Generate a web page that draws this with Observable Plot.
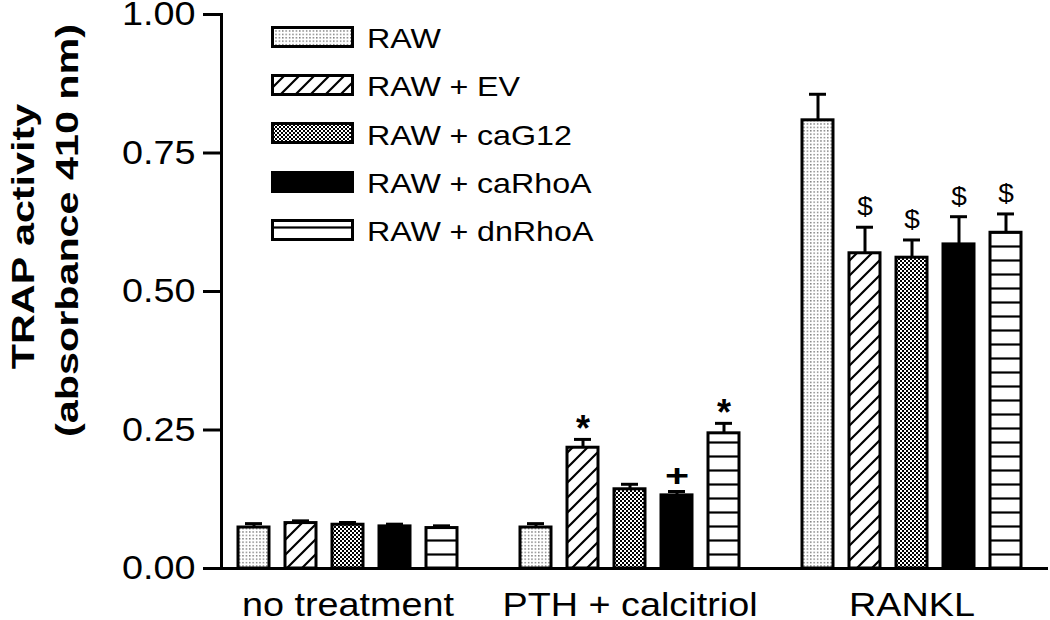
<!DOCTYPE html>
<html>
<head>
<meta charset="utf-8">
<script src="https://cdn.jsdelivr.net/npm/d3@7"></script>
<script src="https://cdn.jsdelivr.net/npm/@observablehq/plot@0.6"></script>
<style>
  body { margin: 0; background: #fff; }
  #wrap { position: relative; width: 1050px; height: 620px; font-family: "Liberation Sans", Arial, sans-serif; }
  #legend { position: absolute; left: 271px; top: 13px; }
  .row { display: flex; align-items: center; height: 48.3px; }
  .row svg { display: block; }
  .row .lab { display: inline-block; margin-left: 12px; font-size: 28px; line-height: 1; color: #000;
              transform: scaleX(1.15); transform-origin: left center; position: relative; top: 2px; white-space: nowrap; }
  .row .plus { margin: 0 7.5px; }
</style>
</head>
<body>
<svg width="0" height="0" style="position:absolute">
  <defs>
    <pattern id="pDots" patternUnits="userSpaceOnUse" width="3.4" height="3.4">
      <rect width="3.4" height="3.4" fill="#fff"/>
      <rect x="1" y="1" width="1.2" height="1.2" fill="#444"/>
    </pattern>
    <pattern id="pDiag" patternUnits="userSpaceOnUse" width="15" height="15">
      <rect width="15" height="15" fill="#fff"/>
      <path d="M-2,17 L17,-2 M-2,2 L2,-2 M13,17 L17,13" stroke="#000" stroke-width="2.2"/>
    </pattern>
    <pattern id="pCheck" patternUnits="userSpaceOnUse" width="4" height="4">
      <rect width="4" height="4" fill="#fff"/>
      <rect width="2" height="2" fill="#000"/>
      <rect x="2" y="2" width="2" height="2" fill="#000"/>
    </pattern>
    <pattern id="pHLines" patternUnits="userSpaceOnUse" width="10" height="14">
      <rect width="10" height="14" fill="#fff"/>
      <line x1="0" x2="10" y1="8.5" y2="8.5" stroke="#000" stroke-width="2.2"/>
    </pattern>
  </defs>
</svg>
<div id="wrap"><div id="legend"></div></div>
<script>
// ---- data ----
const groups = ["no treatment", "PTH + calcitriol", "RANKL"];
const series = ["RAW", "RAW+EV", "RAW+caG12", "RAW+caRhoA", "RAW+dnRhoA"];
const meanNoTreatment = [0.074, 0.082, 0.079, 0.076, 0.073];
const errNoTreatment  = [0.007, 0.004, 0.004, 0.004, 0.004];
const meanPTH   = [0.074, 0.218, 0.143, 0.132, 0.244];
const errPTH    = [0.007, 0.015, 0.009, 0.007, 0.018];
const meanRANKL = [0.809, 0.569, 0.561, 0.585, 0.606];
const errRANKL  = [0.047, 0.047, 0.032, 0.050, 0.034];
const sigNoTreatment = ["", "", "", "", ""];
const sigPTH   = ["", "*", "", "+", "*"];
const sigRANKL = ["", "$", "$", "$", "$"];
const yTicks = [0, 0.25, 0.5, 0.75, 1];
const yTitleLine1 = "TRAP activity";
const yTitleLine2 = "(absorbance 410 nm)";
const fills = ["url(#pDots)", "url(#pDiag)", "url(#pCheck)", "#000", "url(#pHLines)"];

// ---- build table ----
const means = [meanNoTreatment, meanPTH, meanRANKL];
const errs = [errNoTreatment, errPTH, errRANKL];
const sigs = [sigNoTreatment, sigPTH, sigRANKL];
const rows = [];
const xDomain = [];
groups.forEach((g, gi) => {
  series.forEach((s, si) => {
    const key = g + "|" + s;
    xDomain.push(key);
    rows.push({group: g, series: s, key, mean: means[gi][si], err: errs[gi][si], top: means[gi][si] + errs[gi][si], sig: sigs[gi][si]});
  });
  if (gi < groups.length - 1) xDomain.push("gap" + gi);
});
const groupLabels = groups.map(g => ({label: g, key: g + "|" + series[2]}));
const starSig = rows.filter(d => d.sig === "*");
const plusSig = rows.filter(d => d.sig === "+");
const dollarSig = rows.filter(d => d.sig === "$");

const chart = Plot.plot({
  width: 1050,
  height: 620,
  marginLeft: 221,
  marginRight: 2,
  marginTop: 14,
  marginBottom: 52,
  style: {fontFamily: "'Liberation Sans', Arial, sans-serif", background: "#fff", color: "#000", overflow: "visible"},
  x: {domain: xDomain, paddingInner: 0.34, paddingOuter: 0.385, align: 0.379, axis: null},
  y: {domain: [0, 1]},
  color: {domain: series, range: fills},
  marks: [
    Plot.ruleX(rows, {x: "key", y1: "mean", y2: "top", stroke: "#000", strokeWidth: 3}),
    Plot.tickY(rows, {x: "key", y: "top", stroke: "#000", strokeWidth: 3, insetLeft: 7, insetRight: 7}),
    Plot.barY(rows, {x: "key", y: "mean", fill: "series", stroke: "#000", strokeWidth: 3}),
    Plot.text(starSig, {x: "key", y: "top", text: "sig", fontSize: 36, fontWeight: "bold", lineAnchor: "bottom", dy: 2}),
    Plot.text(plusSig, {x: "key", y: "top", text: "sig", fontSize: 32, fontWeight: "bold", lineAnchor: "bottom", dy: -5}),
    Plot.text(dollarSig, {x: "key", y: "top", text: "sig", fontSize: 25, lineAnchor: "bottom", dy: -12}),
    Plot.axisY(yTicks, {tickFormat: d3.format(".2f"), tickSize: 18, tickPadding: 8, strokeWidth: 3, fontSize: 33, label: null}),
    Plot.frame({anchor: "left", strokeWidth: 3}),
    Plot.ruleY([0], {strokeWidth: 3}),
    Plot.text(groupLabels, {x: "key", text: "label", frameAnchor: "bottom", lineAnchor: "bottom", dy: 47, fontSize: 33}),
    Plot.text([yTitleLine1], {text: d => d, frameAnchor: "left", textAnchor: "middle", lineAnchor: "bottom", rotate: -90, dx: -188, dy: -55, fontSize: 32, fontWeight: "bold"}),
    Plot.text([yTitleLine2], {text: d => d, frameAnchor: "left", textAnchor: "middle", lineAnchor: "bottom", rotate: -90, dx: -144, dy: -61, fontSize: 32, fontWeight: "bold"})
  ]
});

document.getElementById("wrap").prepend(chart);

// horizontal stretch of the lettering, as in the reference
function stretch(sel, k) {
  sel.each(function() {
    const L = this.getComputedTextLength();
    this.setAttribute("textLength", (L * k).toFixed(1));
    this.setAttribute("lengthAdjust", "spacingAndGlyphs");
  });
}
const root = d3.select(chart);
stretch(root.selectAll("g[aria-label='y-axis tick label'] text"), 1.145);
root.selectAll("g[aria-label='text']").each(function() {
  const g = d3.select(this);
  const fs = g.attr("font-size");
  if (fs === "33") stretch(g.selectAll("text"), 1.145);
  if (fs === "32") stretch(g.selectAll("text"), 1.29);
  if (fs === "25") stretch(g.selectAll("text"), 1.12);
});

// legend
const legend = d3.select("#legend");
series.forEach((s, i) => {
  const row = legend.append("div").attr("class", "row");
  const sv = row.append("svg").attr("width", 84).attr("height", 23);
  sv.append("rect").attr("x", 1.5).attr("y", 1.5).attr("width", 80).attr("height", 19)
    .attr("fill", fills[i]).attr("stroke", "#000").attr("stroke-width", 3);
  const lab = row.append("span").attr("class", "lab");
  const parts = s.split("+");
  parts.forEach((p, j) => {
    if (j > 0) lab.append("span").attr("class", "plus").text("+");
    lab.append("span").text(p);
  });
});
</script>
</body>
</html>
